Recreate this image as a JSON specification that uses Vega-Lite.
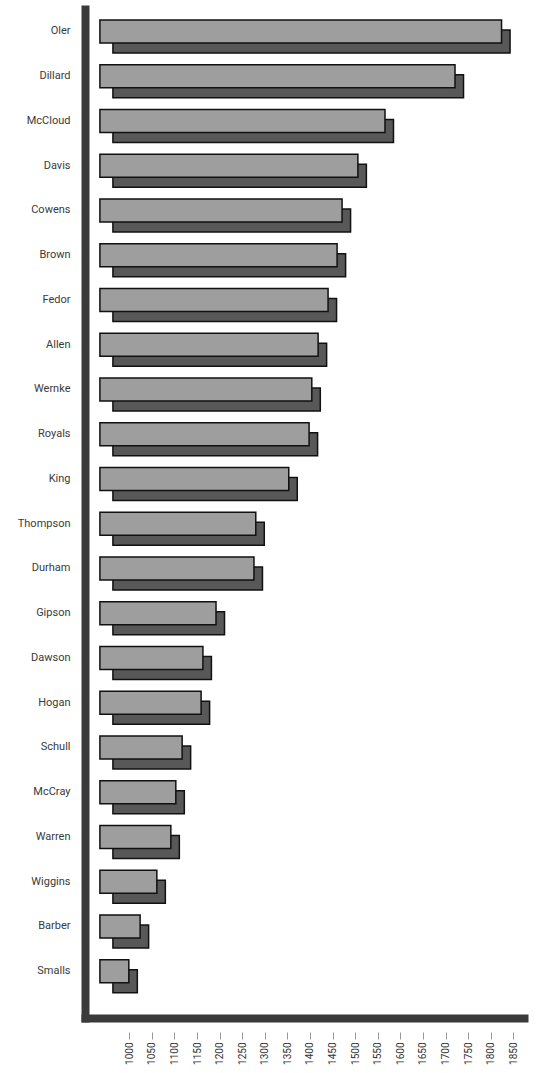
{
  "$schema": "https://vega.github.io/schema/vega-lite/v6.json",
  "width": 439,
  "height": 1009,
  "autosize": "none",
  "padding": {"left": 85, "top": 9, "right": 14, "bottom": 55},
  "background": "white",
  "config": {"view": {"stroke": null}},
  "data": {"values": [
    {"name": "Oler", "value": 1824},
    {"name": "Dillard", "value": 1721},
    {"name": "McCloud", "value": 1566},
    {"name": "Davis", "value": 1506},
    {"name": "Cowens", "value": 1471},
    {"name": "Brown", "value": 1460},
    {"name": "Fedor", "value": 1440},
    {"name": "Allen", "value": 1418},
    {"name": "Wernke", "value": 1404},
    {"name": "Royals", "value": 1398},
    {"name": "King", "value": 1353},
    {"name": "Thompson", "value": 1280},
    {"name": "Durham", "value": 1276},
    {"name": "Gipson", "value": 1192},
    {"name": "Dawson", "value": 1163},
    {"name": "Hogan", "value": 1159},
    {"name": "Schull", "value": 1117},
    {"name": "McCray", "value": 1103},
    {"name": "Warren", "value": 1092},
    {"name": "Wiggins", "value": 1061},
    {"name": "Barber", "value": 1024},
    {"name": "Smalls", "value": 999}
  ]},
  "encoding": {
    "y": {
      "field": "name", "type": "nominal", "sort": null,
      "scale": {"paddingInner": 0, "paddingOuter": 0.2737, "align": 0}
    }
  },
  "layer": [
    {
      "mark": {"type": "bar", "height": 23, "fill": "#585858", "stroke": "#111", "strokeWidth": 1.5, "xOffset": 8.5, "x2Offset": 13, "yOffset": 10},
      "encoding": {
        "x": {
          "field": "value", "type": "quantitative",
          "scale": {"domain": [902, 1873.7], "nice": false, "zero": false},
          "axis": {
            "orient": "bottom", "offset": 14, "domain": false, "grid": false, "format": "d",
            "values": [1000, 1050, 1100, 1150, 1200, 1250, 1300, 1350, 1400, 1450, 1500, 1550, 1600, 1650, 1700, 1750, 1800, 1850],
            "title": null, "labelAngle": -90, "labelFont": "Liberation Sans Narrow, Roboto, sans-serif",
            "labelFontSize": 10, "labelColor": "#333", "tickColor": "#999", "tickSize": 7, "labelPadding": 3
          }
        },
        "x2": {"datum": 935},
        "y": {
          "field": "name", "type": "nominal", "sort": null,
          "axis": {
            "title": null, "ticks": false, "domainColor": "#3a3a3a", "domainWidth": 8, "domainCap": "square",
            "labelFont": "Liberation Sans Narrow, Roboto, sans-serif", "labelFontSize": 11,
            "labelColor": "#3a3a3a", "labelPadding": 15
          }
        }
      }
    },
    {
      "mark": {"type": "bar", "height": 23, "fill": "#9e9e9e", "stroke": "#111", "strokeWidth": 1.5},
      "encoding": {
        "x": {
          "field": "value", "type": "quantitative",
          "axis": {"orient": "bottom", "domainColor": "#3a3a3a", "domainWidth": 8, "domainCap": "square", "ticks": false, "labels": false, "grid": false, "title": null}
        },
        "x2": {"datum": 935}
      }
    }
  ],
  "resolve": {"axis": {"x": "independent"}}
}
